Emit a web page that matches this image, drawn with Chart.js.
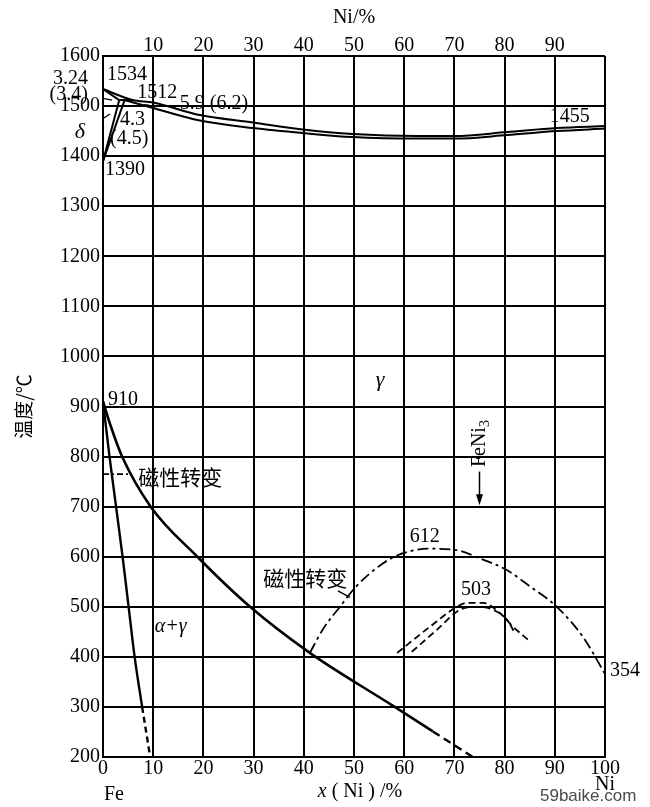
<!DOCTYPE html>
<html><head><meta charset="utf-8">
<script src="https://cdn.jsdelivr.net/npm/chart.js@4/dist/chart.umd.min.js"></script>
<style>html,body{margin:0;padding:0;background:#fff}</style>
</head><body>
<canvas id="c" width="650" height="807"></canvas>
<script>
// ---- data (x = Ni %, T = °C) ----
const xTicks = [0,10,20,30,40,50,60,70,80,90,100];
const yTicks = [200,300,400,500,600,700,800,900,1000,1100,1200,1300,1400,1500,1600];

const liquidusNi = [0, 5.9, 10, 19.3, 29.9, 39.8, 49.8, 62.5, 70, 80.5, 90.4, 100];
const liquidusT  = [1534, 1512, 1507, 1482, 1467, 1453, 1444, 1440, 1440, 1448, 1456, 1460];
const solidusNi  = [4.3, 10, 19.3, 29.9, 39.8, 49.8, 62.5, 70, 80.5, 90.4, 100];
const solidusT   = [1512, 1496, 1471, 1456, 1446, 1438, 1435, 1435, 1442, 1450, 1455];
const deltaSolidusNi = [0, 3.24];  const deltaSolidusT = [1534, 1512];
const peritecticNi   = [3.24, 5.9]; const peritecticT  = [1512, 1512];
const deltaLowerNi   = [0, 3.24];  const deltaLowerT   = [1390, 1512];
const gammaUpperNi   = [0, 4.3];   const gammaUpperT   = [1390, 1512];

const alphaNi     = [0, 1.3, 2.6, 3.9, 5.1, 6.3, 7.8];
const alphaT      = [910, 800, 700, 600, 500, 400, 300];
const alphaDashNi = [7.8, 9.4];
const alphaDashT  = [300, 200];

const gammaNi     = [0, 1.5, 3.8, 9.5, 18.8, 29.3, 41.2, 57.8, 65.7];
const gammaT      = [910, 862, 800, 700, 600, 500, 408, 302, 251];
const gammaDashNi = [65.7, 73.7];
const gammaDashT  = [251, 200];

const feMagNi = [0, 5.6];
const feMagT  = [765, 765];

const curieNi = [41.2, 44, 47.2, 50.2, 55.8, 59.8, 65, 70.5, 75, 80.5, 85, 90.4, 95.6, 100];
const curieT  = [408, 458, 500, 538, 587, 607, 616, 613, 597, 573, 541, 500, 440, 366];

const order1Ni = [58.6, 65.1, 70.5, 72.5, 75.7, 79, 81.7, 84.7];
const order1T  = [408, 460, 500, 508, 508, 488, 460, 434];
const order2Ni = [61.5, 66.5, 71.1, 74.5, 77.7, 80.5, 82];
const order2T  = [410, 454, 494, 500, 494, 474, 448];

const leader34Ni = [-2.6, 1.8];   const leader34T = [1520, 1512];
const leaderDNi  = [-3.0, 1.4];   const leaderDT  = [1456, 1484];
const leader59Ni = [8, 14.8];     const leader59T = [1503, 1498];
const leaderMagNi = [46.8, 49.2]; const leaderMagT = [532, 519];

const fe3Ni = 75; const fe3Top = 770; const fe3Tip = 703;

function pts(xs, ys){ return xs.map((x,i)=>({x:x, y:ys[i]})); }

function ds(xs, ys, opt){
  return Object.assign({data: pts(xs,ys), showLine:true, borderColor:'#000', backgroundColor:'#000',
    borderWidth:2.2, pointRadius:0, tension:0, fill:false}, opt||{});
}
const smooth = {cubicInterpolationMode:'monotone'};
const dashDot = [11,4,3,4];

const datasets = [
  ds(liquidusNi, liquidusT, Object.assign({borderWidth:2}, smooth)),
  ds(solidusNi, solidusT, Object.assign({borderWidth:2}, smooth)),
  ds(deltaSolidusNi, deltaSolidusT, {borderWidth:2}),
  ds(peritecticNi, peritecticT, {borderWidth:2}),
  ds(deltaLowerNi, deltaLowerT, {borderWidth:2}),
  ds(gammaUpperNi, gammaUpperT, {borderWidth:2}),
  ds(alphaNi, alphaT, Object.assign({borderWidth:2.4}, smooth)),
  ds(alphaDashNi, alphaDashT, {borderWidth:2.4, borderDash:[6,4]}),
  ds(gammaNi, gammaT, Object.assign({borderWidth:2.6}, smooth)),
  ds(gammaDashNi, gammaDashT, {borderWidth:2.4, borderDash:[8,5]}),
  ds(feMagNi, feMagT, {borderWidth:1.6, borderDash:[6,3,2,3]}),
  ds(curieNi, curieT, Object.assign({borderWidth:1.8, borderDash:dashDot}, smooth)),
  ds(order1Ni, order1T, Object.assign({borderWidth:1.8, borderDash:[7,4]}, smooth)),
  ds(order2Ni, order2T, Object.assign({borderWidth:1.8, borderDash:[7,4]}, smooth)),
  ds(leader34Ni, leader34T, {borderWidth:1.2}),
  ds(leaderDNi, leaderDT, {borderWidth:1.2}),
  ds(leader59Ni, leader59T, {borderWidth:1.2, borderDash:[6,3]}),
  ds(leaderMagNi, leaderMagT, {borderWidth:1.4})
];

const SERIF = '"Liberation Serif","DejaVu Serif",serif';
const CJK = '"Noto Sans CJK SC","Noto Sans CJK JP",sans-serif';

const textLabels = [
  {t:'1534', x:0.8,  y:1562, a:'left'},
  {t:'3.24', x:-3.0, y:1554, a:'right'},
  {t:'(3.4)', x:-3.0, y:1522, a:'right'},
  {t:'1512', x:6.8,  y:1527, a:'left'},
  {t:'5.9 (6.2)', x:15.3, y:1505, a:'left'},
  {t:'4.3',  x:3.4,  y:1472, a:'left'},
  {t:'(4.5)', x:1.4, y:1434, a:'left'},
  {t:'δ',    x:-4.6, y:1447, a:'center', it:true, size:22},
  {t:'1390', x:0.4,  y:1372, a:'left'},
  {t:'1455', x:89,   y:1479, a:'left'},
  {t:'910',  x:1.0,  y:914,  a:'left'},
  {t:'磁性转变', x:7.0, y:760, a:'left', cjk:true},
  {t:'γ',    x:55.2, y:953,  a:'center', it:true, size:22},
  {t:'α+γ',  x:10.3, y:460,  a:'left', it:true, size:20},
  {t:'磁性转变', x:31.9, y:558, a:'left', cjk:true},
  {t:'612',  x:64.1, y:639,  a:'center'},
  {t:'503',  x:74.3, y:534,  a:'center'},
  {t:'354',  x:101,  y:372,  a:'left'}
];

const labelPlugin = {
  id:'labels',
  afterDatasetsDraw(chart){
    const ctx = chart.ctx, xs = chart.scales.x, ys = chart.scales.y;
    ctx.save();
    ctx.fillStyle = '#000';
    ctx.textBaseline = 'middle';
    textLabels.forEach(l=>{
      const sz = l.size || 20;
      ctx.font = l.cjk ? ('21px ' + CJK) : ((l.it ? 'italic ' : '') + sz + 'px ' + SERIF);
      ctx.textAlign = l.a;
      ctx.fillText(l.t, xs.getPixelForValue(l.x), ys.getPixelForValue(l.y));
    });
    // FeNi3 rotated label with arrow
    const px = xs.getPixelForValue(fe3Ni);
    const pyTop = ys.getPixelForValue(fe3Top), pyTip = ys.getPixelForValue(fe3Tip);
    ctx.save();
    ctx.translate(px, pyTop - 28);
    ctx.rotate(-Math.PI/2);
    ctx.font = '20px ' + SERIF;
    ctx.textAlign = 'left';
    const w1 = ctx.measureText('FeNi').width;
    ctx.font = '14px ' + SERIF;
    const w2 = ctx.measureText('3').width;
    const start = -(w1 + w2)/2;
    ctx.font = '20px ' + SERIF;
    ctx.fillText('FeNi', start, 0);
    ctx.font = '14px ' + SERIF;
    ctx.fillText('3', start + w1, 6);
    ctx.restore();
    ctx.strokeStyle = '#000';
    ctx.lineWidth = 1.5;
    ctx.beginPath(); ctx.moveTo(px, pyTop); ctx.lineTo(px, pyTip - 6); ctx.stroke();
    ctx.beginPath(); ctx.moveTo(px, pyTip); ctx.lineTo(px-3.5, pyTip-11); ctx.lineTo(px+3.5, pyTip-11); ctx.closePath(); ctx.fill();
    // bottom annotations
    const x0 = xs.getPixelForValue(0), x100 = xs.getPixelForValue(100), xm = xs.getPixelForValue(50);
    ctx.textAlign = 'left';
    ctx.font = '20px ' + SERIF;
    ctx.fillText('Fe', x0 + 1, 795);
    ctx.fillText('Ni', x100 - 10, 785);
    // x title: x(Ni)/%
    ctx.font = 'italic 20px ' + SERIF;
    const wx = ctx.measureText('x').width;
    ctx.font = '20px ' + SERIF;
    const rest = ' ( Ni ) /%';
    const wr = ctx.measureText(rest).width;
    const sx = xm + 6 - (wx + wr)/2;
    ctx.font = 'italic 20px ' + SERIF;
    ctx.fillText('x', sx, 792);
    ctx.font = '20px ' + SERIF;
    ctx.fillText(rest, sx + wx, 792);
    // watermark
    ctx.fillStyle = '#4a4a4a';
    ctx.font = '17px "Liberation Sans",Arial,sans-serif';
    ctx.fillText('59baike.com', 540, 796);
    ctx.restore();
  }
};

const plain = v => String(v);

new Chart(document.getElementById('c'), {
  type:'scatter',
  data:{datasets: datasets},
  options:{
    responsive:false, animation:false,
    layout:{padding:{left:0, right:45, top:0, bottom:0}},
    plugins:{legend:{display:false}, tooltip:{enabled:false}},
    scales:{
      x:{type:'linear', position:'bottom', min:0, max:100,
        afterBuildTicks(s){ s.ticks = xTicks.map(v=>({value:v})); },
        afterFit(s){ s.height = 50; },
        ticks:{color:'#000', font:{family:SERIF, size:20}, padding:0, maxRotation:0, autoSkip:false, callback:plain},
        grid:{color:'#000', lineWidth:2, drawTicks:false},
        border:{display:true, color:'#000', width:2}},
      x2:{type:'linear', position:'top', min:0, max:100,
        afterBuildTicks(s){ s.ticks = xTicks.filter(v=>v>0 && v<100).map(v=>({value:v})); },
        afterFit(s){ s.height = 56; },
        ticks:{color:'#000', font:{family:SERIF, size:20}, padding:-2, maxRotation:0, autoSkip:false, callback:plain},
        grid:{display:false, drawTicks:false},
        border:{display:false},
        title:{display:true, text:'Ni/%', color:'#000', font:{family:SERIF, size:20}, padding:{top:6, bottom:0}}},
      y:{type:'linear', position:'left', min:200, max:1600,
        afterBuildTicks(s){ s.ticks = yTicks.map(v=>({value:v})); },
        afterFit(s){ s.width = 103; },
        ticks:{color:'#000', font:{family:SERIF, size:20}, padding:3, autoSkip:false, callback:plain},
        grid:{color:'#000', lineWidth:2, drawTicks:false},
        border:{display:true, color:'#000', width:2},
        title:{display:true, text:'温度/℃', color:'#000', font:{family:CJK, size:19}, padding:{top:12, bottom:0}}}
    }
  },
  plugins:[labelPlugin]
});
</script>
</body></html>
